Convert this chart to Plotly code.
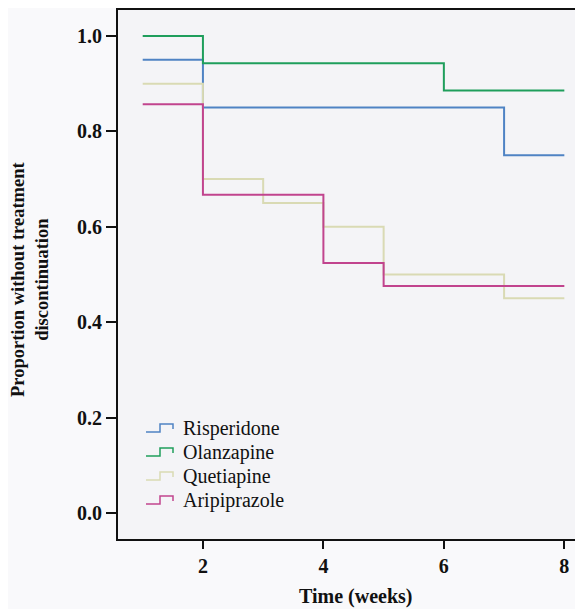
import plotly.graph_objects as go

# Kaplan-Meier style step data (time in weeks, proportion without discontinuation)
risperidone_t = [1, 2, 7, 8]
risperidone_p = [0.95, 0.85, 0.75, 0.75]

olanzapine_t = [1, 2, 6, 8]
olanzapine_p = [1.0, 0.943, 0.886, 0.886]

quetiapine_t = [1, 2, 3, 4, 5, 7, 8]
quetiapine_p = [0.90, 0.70, 0.65, 0.60, 0.50, 0.45, 0.45]

aripiprazole_t = [1, 2, 4, 5, 8]
aripiprazole_p = [0.857, 0.667, 0.524, 0.476, 0.476]

names = ["Risperidone", "Olanzapine", "Quetiapine", "Aripiprazole"]
colors = ["#4f83c4", "#1f9e5c", "#d9dab4", "#c1448e"]
times = [risperidone_t, olanzapine_t, quetiapine_t, aripiprazole_t]
props = [risperidone_p, olanzapine_p, quetiapine_p, aripiprazole_p]

x_ticks = [2, 4, 6, 8]
y_ticks = [0.0, 0.2, 0.4, 0.6, 0.8, 1.0]

fig = go.Figure()
for name, t, p, c in zip(names, times, props, colors):
    fig.add_trace(go.Scatter(x=t, y=p, mode="lines", name=name, showlegend=False,
                             line=dict(color=c, width=2, shape="hv")))

serif = "Liberation Serif, Times New Roman, serif"

# Figure geometry (the page body adds an 8px margin)
W, H = 575, 601
ML, MR, MT, MB = 110, 0, 2, 70
PW, PH = W - ML - MR, H - MT - MB


def px(xw):  # window pixel x -> paper
    return (xw - 8 - ML) / PW


def py(yw):  # window pixel y -> paper
    return (H - MB - (yw - 8)) / PH


# custom legend with step-shaped glyphs
shapes = []
annotations = []
for i, (name, c) in enumerate(zip(names, colors)):
    yc = 428 + 24 * i
    x0, x1, x2 = 146, 160, 173
    ylo, yhi, yend = yc + 4, yc - 4, yc + 1
    path = (f"M {px(x0)} {py(ylo)} L {px(x1)} {py(ylo)} L {px(x1)} {py(yhi)} "
            f"L {px(x2)} {py(yhi)} L {px(x2)} {py(yend)}")
    shapes.append(dict(type="path", xref="paper", yref="paper", path=path,
                       line=dict(color=c, width=1.5)))
    annotations.append(dict(text=name, xref="paper", yref="paper", x=px(181), y=py(yc),
                            xanchor="left", yanchor="middle", showarrow=False,
                            font=dict(family=serif, size=20, color="#111111")))

annotations += [
    dict(text="Proportion without treatment<br>discontinuation", xref="paper", yref="paper",
         x=px(30), y=py(280), xanchor="center", yanchor="middle", textangle=-90, showarrow=False,
         font=dict(family=serif, size=18.5, color="#111111", weight="bold")),
    dict(text="Time (weeks)", xref="paper", yref="paper",
         x=px(356), y=py(596), xanchor="center", yanchor="middle", showarrow=False,
         font=dict(family=serif, size=20, color="#111111", weight="bold")),
]

fig.update_layout(
    width=W, height=H,
    margin=dict(l=ML, r=MR, t=MT, b=MB),
    paper_bgcolor="#f9f9fb",
    plot_bgcolor="#f4f4f7",
    font=dict(family=serif, color="#111111"),
    showlegend=False,
    xaxis=dict(range=[0.59, 8.31], tickvals=x_ticks, ticktext=[str(v) for v in x_ticks],
               showgrid=False, zeroline=False, showline=True, linecolor="#111111", linewidth=2,
               mirror=True, ticks="outside", ticklen=8, tickwidth=2, tickcolor="#111111",
               tickfont=dict(family=serif, size=20, color="#111111", weight="bold")),
    yaxis=dict(range=[-0.0545, 1.0545], tickvals=y_ticks, ticktext=[f"{v:.1f}" for v in y_ticks],
               showgrid=False, zeroline=False, showline=True, linecolor="#111111", linewidth=2,
               ticks="outside", ticklen=10, tickwidth=1.5, tickcolor="#111111",
               tickfont=dict(family=serif, size=20, color="#111111", weight="bold")),
    shapes=shapes,
    annotations=annotations,
)

fig.write_html("out.html")
